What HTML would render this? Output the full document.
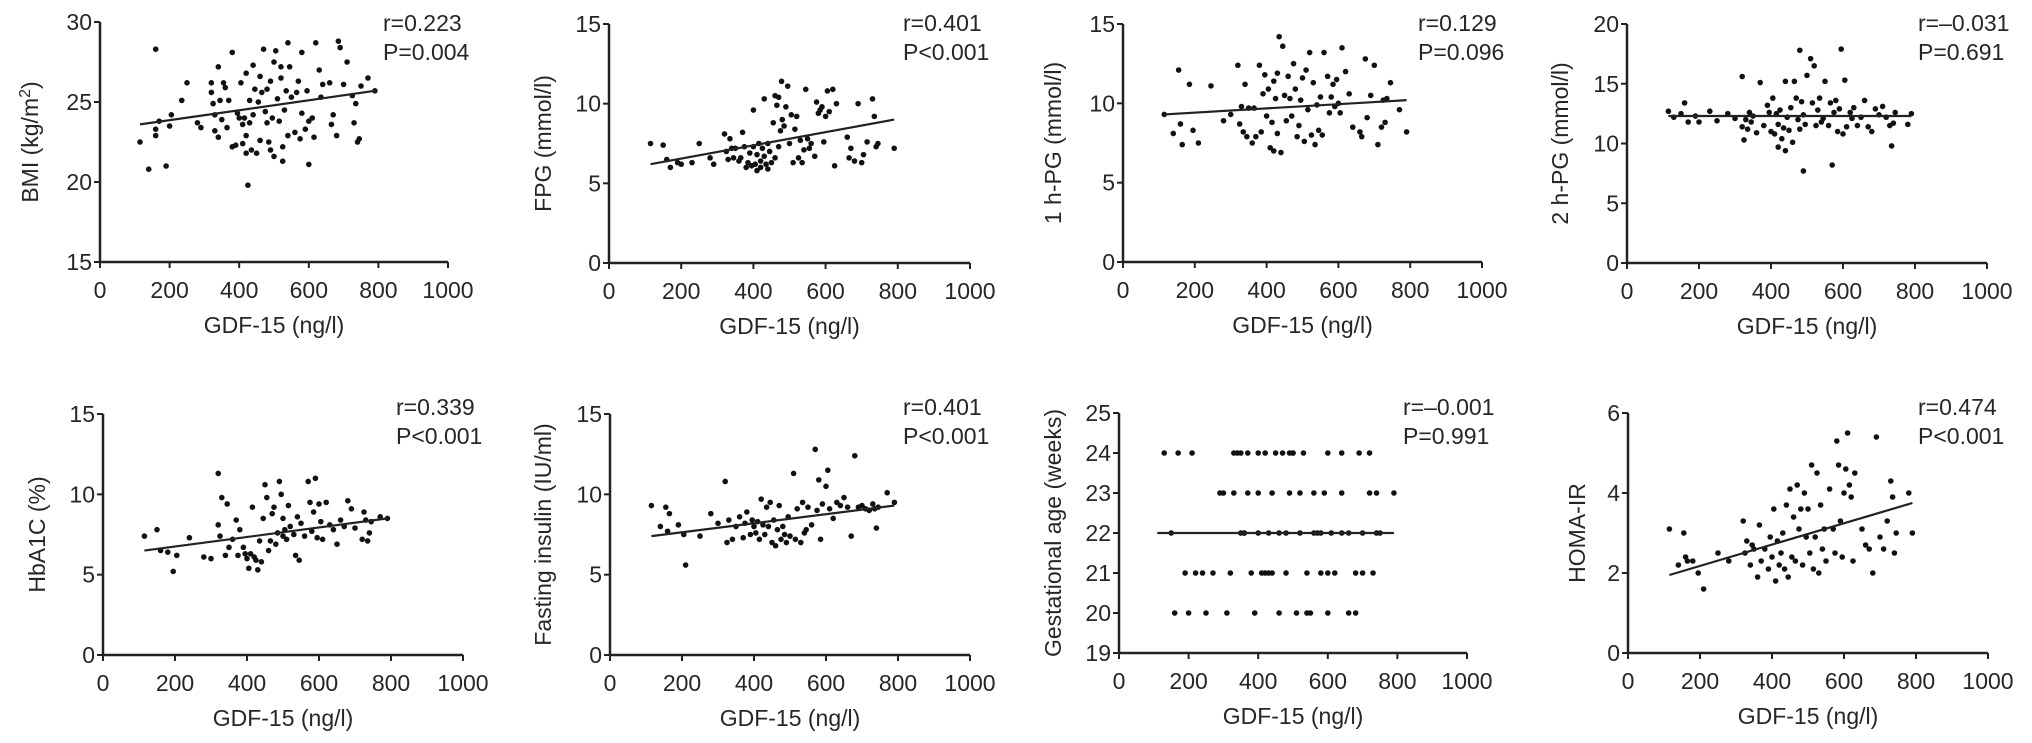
<!DOCTYPE html>
<html><head><meta charset="utf-8"><title>GDF-15 correlations</title>
<style>
html,body{margin:0;padding:0;background:#fff;}
svg{display:block;}
text{font-family:"Liberation Sans",Arial,sans-serif;fill:#262626;}
</style></head>
<body>
<svg id="fig" width="2032" height="743" viewBox="0 0 2032 743" xmlns="http://www.w3.org/2000/svg"></svg>
<script>
// ---- Data (GDF-15 in ng/l on x) ----
const bmiX=[115,140,160,160,160,170,190,200,205,235,250,280,290,320,320,325,330,330,340,340,345,350,355,360,365,370,380,380,390,395,400,405,410,410,415,420,420,420,425,430,430,435,440,440,445,450,455,460,460,465,470,475,480,480,485,490,490,495,500,500,505,510,515,520,520,525,525,530,535,540,540,545,550,560,565,570,575,580,580,590,595,600,600,610,615,620,630,635,640,660,665,670,680,685,690,700,710,725,730,735,740,745,750,770,790];
const bmiY=[22.5,20.8,28.3,23.3,22.9,23.8,21.0,23.5,24.2,25.1,26.2,23.7,23.4,26.2,25.6,24.9,24.2,23.2,22.8,27.2,25.1,23.9,26.2,25.9,23.4,25.1,28.1,22.2,22.3,24.3,24.0,26.2,23.6,22.4,24.0,26.8,22.9,21.8,19.8,25.1,23.7,22.0,27.3,24.2,25.8,21.8,25.0,26.6,22.6,25.6,28.3,24.4,23.7,25.8,22.5,26.3,22.0,24.0,27.5,21.6,28.2,25.2,23.8,26.5,27.2,22.2,21.3,24.5,25.7,28.7,22.9,27.2,25.3,23.1,25.6,26.3,22.7,28.1,24.3,23.3,25.7,21.1,23.8,24.0,22.8,28.7,27.0,25.3,26.1,26.2,23.6,24.2,22.9,28.8,28.4,26.1,27.5,25.4,23.7,24.9,22.5,22.7,26.0,26.5,25.7];
const fpgX=[115,150,160,170,190,200,230,250,280,290,320,325,330,335,340,345,350,360,365,370,375,380,385,390,395,400,400,405,410,410,415,420,420,425,430,430,435,440,440,445,450,455,460,460,465,470,470,475,478,480,485,490,495,500,505,510,515,520,525,530,535,540,545,550,555,560,570,575,580,585,590,595,600,605,610,620,625,630,660,665,670,680,690,700,705,715,730,735,740,745,790];
const fpgY=[7.5,7.4,6.5,6.0,6.3,6.2,6.3,7.5,6.6,6.2,8.1,7.0,6.5,7.8,7.2,6.6,7.2,6.4,6.6,8.2,7.3,6.0,6.3,6.9,6.1,9.6,7.3,6.2,6.8,5.8,7.5,6.4,6.0,7.2,10.3,6.7,6.2,7.5,5.9,7.0,6.3,8.8,10.5,6.6,9.9,10.4,7.3,8.3,11.4,9.0,8.6,9.8,11.1,7.5,9.3,6.3,8.4,9.2,6.6,7.7,6.3,7.1,10.9,7.8,7.2,7.5,6.7,10.1,9.4,9.6,9.8,7.6,9.2,10.8,9.5,10.9,6.1,10.0,7.9,6.6,7.2,6.4,10.0,6.3,6.8,7.6,10.3,9.2,7.3,7.5,7.2];
const h1X=[115,140,155,160,165,185,195,210,245,280,300,320,325,330,335,340,345,350,360,365,370,380,385,390,395,400,405,410,415,420,420,425,430,430,435,440,445,450,455,460,465,470,475,480,485,490,495,500,505,510,515,520,525,530,535,540,545,550,555,560,570,575,580,585,590,595,600,605,610,620,630,640,660,665,675,680,690,700,710,720,725,730,735,745,770,790];
const h1Y=[9.3,8.1,12.1,8.7,7.4,11.2,8.3,7.5,11.1,8.9,9.3,12.4,8.7,9.8,8.2,11.2,7.9,9.7,7.5,9.7,7.9,12.4,8.2,10.6,11.8,9.2,10.9,7.2,8.8,11.4,7.0,10.3,11.9,8.1,14.2,6.9,13.6,10.5,8.9,11.7,10.3,9.2,12.5,10.9,7.9,8.6,10.2,11.6,7.6,12.1,9.6,13.2,8.0,11.3,7.4,9.9,8.3,10.4,8.0,13.2,11.7,9.4,10.4,11.2,9.8,11.5,10.0,9.4,13.5,12.0,10.6,8.5,8.2,7.9,12.8,9.1,10.5,12.4,7.4,8.5,10.2,8.8,10.3,11.3,9.6,8.2];
const h2X=[115,130,150,160,170,190,200,230,250,280,300,320,320,325,330,335,340,345,350,360,370,380,390,395,400,405,410,415,420,420,425,430,435,440,440,445,450,455,460,465,470,475,480,480,485,490,490,495,500,510,515,520,525,530,535,540,545,550,560,565,570,575,580,585,590,595,600,605,610,620,625,630,640,650,660,670,680,690,700,710,720,730,735,740,745,780,790];
const h2Y=[12.7,12.2,12.5,13.4,11.8,12.3,11.8,12.7,11.9,12.5,12.1,15.6,11.4,10.3,12.0,11.2,12.6,11.8,12.3,10.9,15.1,11.5,13.2,12.6,11.0,13.8,10.8,12.5,11.6,9.7,12.8,10.4,11.3,9.4,15.2,12.2,11.1,13.0,10.1,15.2,13.8,12.0,17.8,11.2,13.5,7.7,12.4,11.6,15.7,17.1,13.4,16.5,11.5,12.8,13.8,11.8,12.1,15.2,11.5,13.4,8.2,12.6,13.6,11.0,12.9,17.9,10.8,15.3,11.4,12.6,12.1,13.0,11.5,12.2,13.6,11.4,11.0,12.9,12.4,13.1,12.2,11.5,9.8,11.7,12.6,11.6,12.5];
const hbX=[115,150,160,180,195,205,240,280,300,320,320,325,330,340,345,350,360,370,375,380,390,395,400,405,410,415,420,425,430,435,440,445,450,455,460,465,470,475,480,485,490,495,500,500,505,510,515,520,530,535,540,545,550,560,570,575,580,585,590,595,600,605,610,620,630,640,650,660,670,680,690,700,720,725,730,735,740,745,770,790];
const hbY=[7.4,7.8,6.5,6.4,5.2,6.2,7.3,6.1,6.0,11.3,8.1,7.4,9.8,6.2,9.4,6.7,7.2,8.4,6.2,7.8,6.7,6.3,6.0,5.4,6.3,9.2,6.1,5.9,5.3,7.1,5.8,8.5,10.6,9.8,6.5,7.1,8.8,9.2,6.9,7.6,10.8,10.0,7.4,8.5,7.8,7.2,9.3,8.0,7.5,6.2,8.6,5.9,8.2,7.4,10.8,9.5,7.7,8.9,11.0,7.3,9.4,8.3,7.2,9.5,8.1,7.8,6.9,8.4,8.0,9.6,9.1,7.9,7.2,8.9,8.4,7.1,7.6,8.3,8.6,8.5];
const finX=[115,140,155,160,165,190,205,210,250,280,300,320,325,330,340,350,360,370,375,380,390,395,400,405,410,415,420,425,430,435,440,445,450,455,460,465,470,475,480,485,490,495,500,510,515,520,530,535,540,545,550,560,570,575,580,585,590,600,605,610,620,630,640,650,660,670,680,690,700,710,720,730,735,740,745,770,790];
const finY=[9.3,8.0,9.2,7.7,8.8,8.1,7.5,5.6,7.4,8.8,8.2,10.8,7.0,8.4,7.2,8.0,8.6,7.3,8.2,8.9,7.5,8.4,8.0,7.6,8.3,7.2,9.7,8.1,7.5,9.2,8.0,9.5,7.0,8.4,6.8,7.8,9.3,7.2,8.0,7.5,7.0,8.6,7.4,11.3,7.2,9.1,7.0,9.5,7.6,7.8,9.2,8.1,12.8,9.0,10.9,7.2,9.4,10.5,11.5,9.1,8.5,9.5,9.3,9.8,9.2,7.4,12.4,9.2,9.3,9.1,9.0,9.4,9.1,7.9,9.2,10.1,9.5];
const gaX=[130,150,160,170,190,200,210,220,240,250,270,290,300,310,320,330,340,350,360,370,380,390,400,410,420,430,440,450,460,470,480,490,500,510,520,530,540,550,560,570,580,590,600,610,620,640,660,680,690,700,720,730,740,750,790,
350,370,400,430,460,490,520,560,600,640,680,740,330,400,440,480,540,600,660,720,360,420,500,580,640,700];
const gaY=[24,22,20,24,21,20,24,21,21,20,21,23,23,20,21,23,24,24,22,24,21,20,24,21,24,22,23,24,20,24,21,23,24,20,22,24,21,20,23,22,21,23,20,22,21,24,22,20,24,22,23,21,23,22,23,
22,23,22,21,22,24,23,22,21,22,21,22,24,23,21,22,20,24,20,24,22,21,24,22,23,21];
const homaX=[115,140,155,160,165,180,195,210,250,280,320,325,330,340,345,350,360,365,370,380,390,395,400,405,410,415,420,425,430,435,440,445,450,455,460,465,470,475,480,485,490,495,500,505,510,515,520,525,530,535,540,545,550,560,570,575,580,585,590,595,600,605,610,615,620,625,630,650,660,670,680,690,700,710,720,730,735,740,745,780,790];
const homaY=[3.1,2.2,3.0,2.4,2.3,2.3,2.0,1.6,2.5,2.3,3.3,2.5,2.8,2.2,2.7,2.6,1.9,3.2,2.3,2.6,2.1,2.9,2.4,3.6,1.8,2.8,2.2,2.5,3.0,2.1,3.7,1.9,4.1,2.4,3.4,2.3,4.2,3.1,3.6,2.2,4.0,2.9,3.6,2.5,4.7,2.1,2.9,4.5,2.0,3.7,2.6,3.1,2.3,4.1,3.1,2.5,5.3,4.7,3.3,2.4,4.0,4.6,5.5,4.2,3.9,2.3,4.5,3.1,2.7,2.6,2.0,5.4,2.9,2.6,3.3,4.3,3.9,2.5,3.0,4.0,3.0];
// fit lines: [x0,y0,x1,y1]
const fitBMI=[115,23.6,790,25.7], fitFPG=[115,6.2,790,9.0], fitH1=[115,9.3,790,10.2], fitH2=[115,12.3,790,12.3];
const fitHb=[115,6.5,790,8.5], fitFin=[115,7.4,790,9.3], fitGA=[110,22.0,790,22.0], fitHoma=[115,1.95,790,3.75];
const xTicks=[0,200,400,600,800,1000];

const NS="http://www.w3.org/2000/svg";
const svg=document.getElementById('fig');
function mk(tag,attrs,parent){const e=document.createElementNS(NS,tag);for(const k in attrs)e.setAttribute(k,attrs[k]);(parent||svg).appendChild(e);return e;}

const panels=[
 {id:'bmi',ax:100,ax1:448,top:22,bot:262,ymin:15,ymax:30,yt:[15,20,25,30],xs:bmiX,ys:bmiY,fit:fitBMI,lab:'BMI',tx:383,ry:31,lx:30},
 {id:'fpg',ax:609,ax1:970,top:24,bot:263,ymin:0,ymax:15,yt:[0,5,10,15],xs:fpgX,ys:fpgY,fit:fitFPG,lab:'FPG (mmol/l)',tx:903,ry:31,lx:543,r:'r=0.401',p:'P<0.001'},
 {id:'1h-pg',ax:1123,ax1:1482,top:24,bot:262,ymin:0,ymax:15,yt:[0,5,10,15],xs:h1X,ys:h1Y,fit:fitH1,lab:'1 h-PG (mmol/l)',tx:1418,ry:31,lx:1053,r:'r=0.129',p:'P=0.096'},
 {id:'2h-pg',ax:1627,ax1:1987,top:24,bot:263,ymin:0,ymax:20,yt:[0,5,10,15,20],xs:h2X,ys:h2Y,fit:fitH2,lab:'2 h-PG (mmol/l)',tx:1918,ry:31,lx:1560,r:'r=\u20130.031',p:'P=0.691'},
 {id:'hba1c',ax:103,ax1:463,top:414,bot:655,ymin:0,ymax:15,yt:[0,5,10,15],xs:hbX,ys:hbY,fit:fitHb,lab:'HbA1C (%)',tx:396,ry:415,lx:37,r:'r=0.339',p:'P<0.001'},
 {id:'insulin',ax:610,ax1:970,top:414,bot:655,ymin:0,ymax:15,yt:[0,5,10,15],xs:finX,ys:finY,fit:fitFin,lab:'Fasting insulin (IU/ml)',tx:903,ry:415,lx:543,r:'r=0.401',p:'P<0.001'},
 {id:'gest-age',ax:1119,ax1:1467,top:413,bot:653,ymin:19,ymax:25,yt:[19,20,21,22,23,24,25],xs:gaX,ys:gaY,fit:fitGA,lab:'Gestational age (weeks)',tx:1403,ry:415,lx:1053,r:'r=\u20130.001',p:'P=0.991'},
 {id:'homa-ir',ax:1628,ax1:1988,top:413,bot:653,ymin:0,ymax:6,yt:[0,2,4,6],xs:homaX,ys:homaY,fit:fitHoma,lab:'HOMA-IR',tx:1918,ry:415,lx:1577,r:'r=0.474',p:'P<0.001'}
];
panels[0].r='r=0.223';panels[0].p='P=0.004';

panels.forEach(P=>{
 const g=mk('g',{});
 
 
 const sx=v=>P.ax+(v/1000)*(P.ax1-P.ax);
 const sy=v=>P.bot-(v-P.ymin)/(P.ymax-P.ymin)*(P.bot-P.top);
 // axes
 const ya=mk('line',{x1:P.ax,y1:P.top,x2:P.ax,y2:P.bot+1,stroke:'#222','stroke-width':2.5},g);
 
 
 const xa=mk('line',{x1:P.ax-1,y1:P.bot,x2:P.ax1,y2:P.bot,stroke:'#222','stroke-width':2.5},g);
 
 
 P.yt.forEach(t=>{
  mk('line',{x1:P.ax-6,y1:sy(t),x2:P.ax,y2:sy(t),stroke:'#222','stroke-width':2},g);
  const tl=mk('text',{x:P.ax-8,y:sy(t)+8,'text-anchor':'end','font-size':23},g);
  tl.textContent=t;
  
  
 });
 xTicks.forEach(t=>{
  mk('line',{x1:sx(t),y1:P.bot,x2:sx(t),y2:P.bot+6,stroke:'#222','stroke-width':2},g);
  const tl=mk('text',{x:sx(t),y:P.bot+36,'text-anchor':'middle','font-size':23},g);
  tl.textContent=t;
  
  
 });
 const xt=mk('text',{x:sx(500),y:P.bot+71,'text-anchor':'middle','font-size':23},g);
 xt.textContent='GDF-15 (ng/l)';
 
 
 const cy=(P.top+P.bot)/2;
 const yt=mk('text',{x:P.lx,y:cy,'text-anchor':'middle','font-size':23,transform:`rotate(-90 ${P.lx} ${cy})`,dy:8},g);
 
 
 if(P.id==='bmi'){
  yt.appendChild(document.createTextNode('BMI (kg/m'));
  const s=mk('tspan',{'baseline-shift':'super','font-size':16},yt);s.textContent='2';
  const e=mk('tspan',{},yt);e.textContent=')';
 } else yt.textContent=P.lab;
 // points
 for(let i=0;i<P.xs.length;i++){
  const c=mk('circle',{cx:sx(P.xs[i]),cy:sy(P.ys[i]),r:2.8,fill:'#111'},g);
  
  
 }
 const f=P.fit;
 const fl=mk('line',{x1:sx(f[0]),y1:sy(f[1]),x2:sx(f[2]),y2:sy(f[3]),stroke:'#222','stroke-width':2.2},g);
 
 
 const rt=mk('text',{x:P.tx,y:P.ry,'font-size':23},g);
 rt.textContent=P.r;
 
 
 const pt=mk('text',{x:P.tx,y:P.ry+29,'font-size':23},g);
 pt.textContent=P.p;
 
 
});
</script>
</body></html>
